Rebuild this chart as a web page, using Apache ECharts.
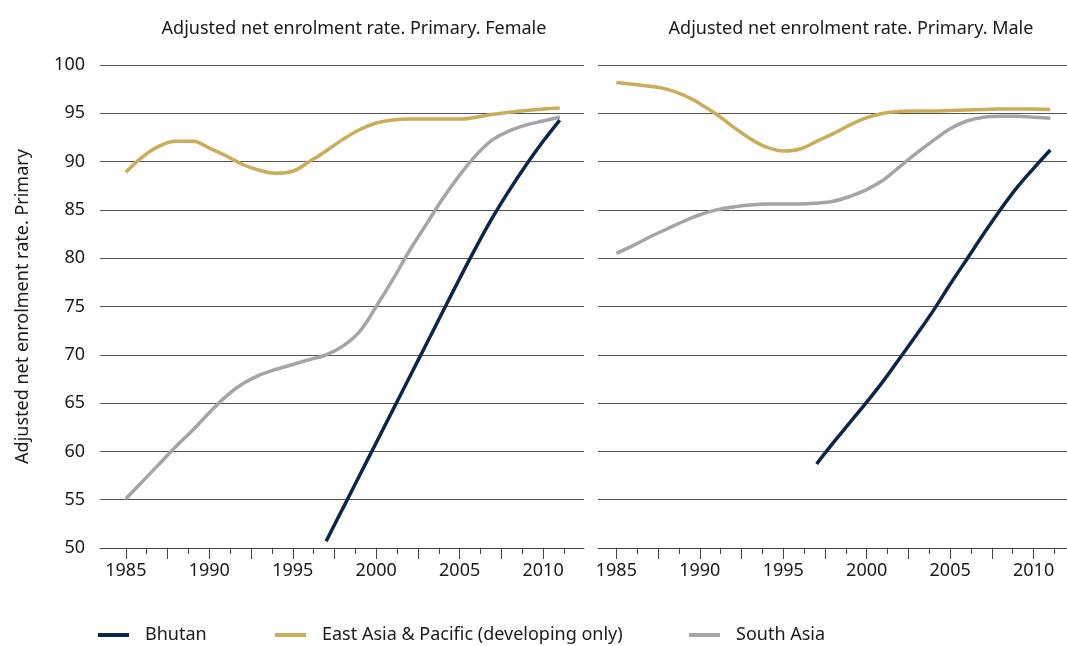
<!DOCTYPE html>
<html>
<head>
<meta charset="utf-8">
<script src="https://cdn.jsdelivr.net/npm/echarts@6/dist/echarts.min.js"></script>
<style>
  html, body { margin: 0; padding: 0; background: #fff; }
  #chart { width: 1067px; height: 646px; }
</style>
</head>
<body>
<div id="chart"></div>
<script>
  // years on the x axis
  const years = [1985, 1986, 1987, 1988, 1989, 1990, 1991, 1992, 1993, 1994, 1995, 1996, 1997, 1998,
    1999, 2000, 2001, 2002, 2003, 2004, 2005, 2006, 2007, 2008, 2009, 2010, 2011];
  const bhutanYears = [1997, 1998, 1999, 2000, 2001, 2002, 2003, 2004, 2005, 2006, 2007, 2008, 2009, 2010, 2011];
  const tickLabels = [1985, 1990, 1995, 2000, 2005, 2010];

  // female panel
  const femaleBhutan = [50.7, 54.1, 57.5, 60.9, 64.3, 67.7, 71.1, 74.5, 77.9, 81.2, 84.3, 87.1, 89.7, 92.1, 94.3];
  const femaleEastAsia = [88.9, 90.5, 91.6, 92.1, 92.1, 91.4, 90.6, 89.7, 89.1, 88.8, 89.0, 90.0, 91.1, 92.3,
    93.3, 94.0, 94.3, 94.4, 94.4, 94.4, 94.4, 94.6, 94.9, 95.1, 95.3, 95.45, 95.55];
  const femaleSouthAsia = [55.1, 56.9, 58.7, 60.5, 62.2, 64.0, 65.7, 67.0, 67.9, 68.5, 69.0, 69.5, 70.0, 70.9,
    72.4, 75.0, 77.8, 80.8, 83.5, 86.2, 88.6, 90.7, 92.3, 93.2, 93.8, 94.2, 94.6];

  // male panel
  const maleBhutan = [58.7, 60.9, 63.0, 65.1, 67.3, 69.7, 72.1, 74.6, 77.3, 79.9, 82.5, 85.0, 87.3, 89.3, 91.2];
  const maleEastAsia = [98.2, 98.0, 97.8, 97.5, 96.9, 96.0, 94.9, 93.6, 92.4, 91.5, 91.1, 91.3, 92.1, 92.9,
    93.8, 94.55, 95.0, 95.2, 95.25, 95.25, 95.3, 95.35, 95.4, 95.45, 95.45, 95.45, 95.4];
  const maleSouthAsia = [80.5, 81.3, 82.2, 83.0, 83.8, 84.5, 85.0, 85.3, 85.5, 85.6, 85.6, 85.6, 85.7, 85.9,
    86.4, 87.1, 88.1, 89.5, 90.9, 92.2, 93.4, 94.2, 94.6, 94.7, 94.7, 94.6, 94.5];

  const names = ['Bhutan', 'East Asia & Pacific (developing only)', 'South Asia'];
  const colors = ['#0b2649', '#c9ad59', '#a5a5a5'];

  // long ticks every 2.5 years, short ones in between
  const longTicks = [], shortTicks = [];
  for (let t = 1985; t <= 2012.5; t += 2.5) { longTicks.push(t); shortTicks.push(t + 1.25); }

  const FONT = 'Noto Sans';
  const txt = '#1a1a1a';

  function pairs(xs, ys) {
    return xs.map((x, i) => [x, ys[i]]);
  }

  function xAxes(grid, min, max) {
    return [{
      type: 'value', gridIndex: grid, min: min, max: max, position: 'bottom',
      axisLine: { lineStyle: { color: '#444', width: 1 } },
      axisTick: { customValues: longTicks, length: 11, lineStyle: { color: '#444' } },
      axisLabel: { customValues: tickLabels, color: txt, fontSize: 18, fontFamily: FONT, margin: 14,
        formatter: v => String(v) },
      splitLine: { show: false }
    }, {
      type: 'value', gridIndex: grid, min: min, max: max, position: 'bottom',
      axisLine: { show: false },
      axisTick: { customValues: shortTicks, length: 6, lineStyle: { color: '#444' } },
      axisLabel: { show: false },
      splitLine: { show: false }
    }];
  }

  function yAxis(grid, showLabels) {
    return {
      type: 'value', gridIndex: grid, min: 50, max: 100, interval: 5,
      axisLine: { show: false }, axisTick: { show: false },
      axisLabel: { show: showLabels, color: txt, fontSize: 18, fontFamily: FONT, margin: 15 },
      splitLine: { lineStyle: { color: '#555', width: 1 } },
      name: showLabels ? 'Adjusted net enrolment rate. Primary' : '',
      nameLocation: 'middle', nameGap: 68, nameRotate: 90,
      nameTextStyle: { color: txt, fontSize: 18, fontFamily: FONT }
    };
  }

  function line(name, color, xi, yi, data) {
    return {
      name: name, type: 'line', xAxisIndex: xi, yAxisIndex: yi, data: data,
      smooth: 0.4, showSymbol: false, symbol: 'none', silent: true,
      lineStyle: { color: color, width: 3.5, cap: 'butt' }, itemStyle: { color: color }
    };
  }

  const chart = echarts.init(document.getElementById('chart'), null, { renderer: 'canvas' });

  const legendLefts = [98, 275, 689];

  chart.setOption({
    animation: false,
    backgroundColor: '#fff',
    textStyle: { fontFamily: FONT },
    title: [
      { text: 'Adjusted net enrolment rate. Primary. Female', left: 349, top: 15, textAlign: 'center',
        textStyle: { color: txt, fontSize: 18, fontWeight: 'normal', fontFamily: FONT } },
      { text: 'Adjusted net enrolment rate. Primary. Male', left: 846, top: 15, textAlign: 'center',
        textStyle: { color: txt, fontSize: 18, fontWeight: 'normal', fontFamily: FONT } }
    ],
    legend: names.map((n, i) => ({
      data: [n], left: legendLefts[i], top: 626, padding: 0, icon: 'rect', itemWidth: 31, itemHeight: 4,
      selectedMode: false,
      textStyle: { color: txt, fontSize: 18, fontFamily: FONT, padding: [0, 0, 0, 11] }
    })),
    grid: [
      { left: 100, top: 65, width: 484, height: 483, outerBoundsMode: 'none', containLabel: false },
      { left: 598, top: 65, width: 484, height: 483, outerBoundsMode: 'none', containLabel: false }
    ],
    xAxis: xAxes(0, 1983.45, 2012.45).concat(xAxes(1, 1983.9, 2012.9)),
    yAxis: [yAxis(0, true), yAxis(1, false)],
    series: [
      line(names[2], colors[2], 0, 0, pairs(years, femaleSouthAsia)),
      line(names[1], colors[1], 0, 0, pairs(years, femaleEastAsia)),
      line(names[0], colors[0], 0, 0, pairs(bhutanYears, femaleBhutan)),
      line(names[2], colors[2], 2, 1, pairs(years, maleSouthAsia)),
      line(names[1], colors[1], 2, 1, pairs(years, maleEastAsia)),
      line(names[0], colors[0], 2, 1, pairs(bhutanYears, maleBhutan))
    ]
  });
</script>
</body>
</html>
